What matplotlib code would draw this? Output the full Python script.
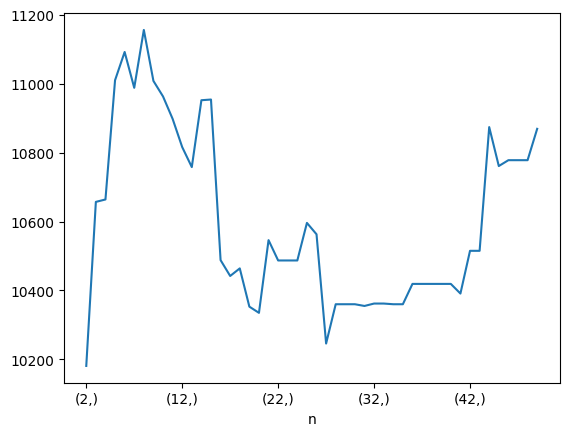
import matplotlib
matplotlib.use("Agg")
import matplotlib.pyplot as plt

n = list(range(2, 50))
values = [
    10181, 10657, 10664, 11010, 11092, 10988, 11156, 11008, 10963, 10898,
    10816, 10758, 10952, 10954, 10488, 10442, 10464, 10353, 10335, 10546,
    10487, 10487, 10487, 10596, 10563, 10246, 10360, 10360, 10360, 10355,
    10362, 10362, 10360, 10360, 10419, 10419, 10419, 10419, 10419, 10391,
    10515, 10515, 10874, 10761, 10778, 10778, 10778, 10869,
]
tick_n = [2, 12, 22, 32, 42]

fig, ax = plt.subplots(figsize=(6.4, 4.8), dpi=100)
pos = list(range(len(n)))
ax.plot(pos, values, color="#1f77b4")
ax.set_xticks([n.index(t) for t in tick_n])
ax.set_xticklabels([f"({t},)" for t in tick_n])
ax.set_xlabel("n")
fig.savefig("out.png", bbox_inches="tight")
